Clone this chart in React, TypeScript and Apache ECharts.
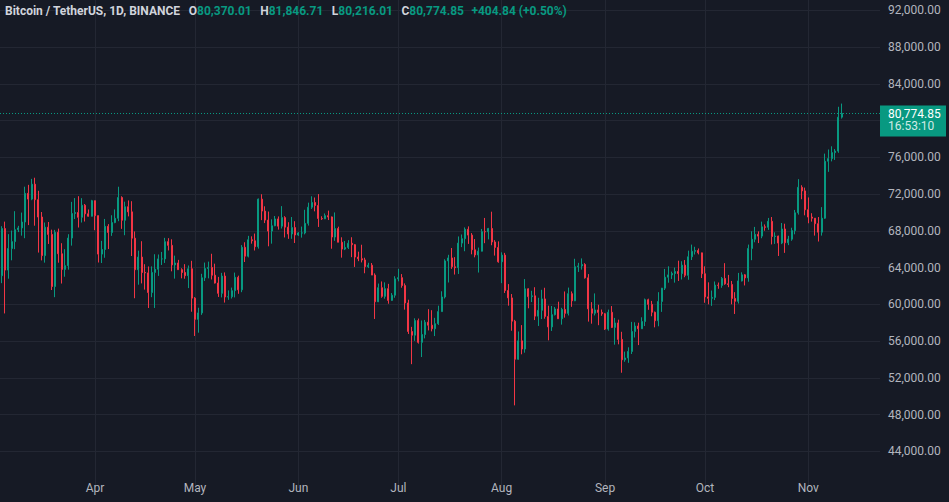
import React, { useEffect, useRef } from "react";
import * as echarts from "echarts";

// ---- data (daily BTC/USDT, [open, high, low, close]) ----
const START_DATE = "2024-03-04";
const EMPTY_DAYS_AFTER = 11;
const SYMBOL_TITLE = "Bitcoin / TetherUS, 1D, BINANCE";
const COUNTDOWN = "16:53:10";
const MONTH_NAMES = ["Jan", "Feb", "Mar", "Apr", "May", "Jun", "Jul", "Aug", "Sep", "Oct", "Nov", "Dec"];

const march: number[][] = [
  [63113, 68499, 62300, 68245], [68245, 69000, 59005, 63724], [63724, 67637, 62787, 66074],
  [66074, 68029, 64789, 66823], [66823, 70136, 66000, 68124], [68124, 68541, 67861, 68313],
  [68313, 69984, 67473, 68955], [68955, 72800, 67194, 72078], [72078, 73000, 68620, 71452],
  [71452, 73650, 71333, 73072], [73072, 73777, 68555, 71388], [71388, 72357, 65630, 69499],
  [69499, 70043, 64780, 65300], [65300, 68904, 64533, 68393], [68393, 68957, 66565, 67609],
  [67609, 68124, 61555, 61937], [61937, 68100, 60775, 67840], [67840, 68240, 64529, 65501],
  [65501, 66649, 62260, 63797], [63797, 65999, 63000, 64209], [64209, 67628, 63772, 67210],
  [67210, 71150, 66385, 69880], [69880, 71561, 69280, 69988], [69988, 71769, 68359, 69469],
  [69469, 71552, 68903, 70780], [70780, 70916, 69009, 69850], [69850, 70321, 69540, 69582],
  [69582, 71366, 69562, 71280],
];
const april: number[][] = [
  [71280, 71288, 68062, 69649], [69649, 69674, 64550, 65463], [65463, 66903, 64493, 65963],
  [65963, 69291, 65064, 68487], [68487, 68725, 66011, 67820], [67820, 69692, 67447, 68896],
  [68896, 70326, 68824, 69360], [69360, 72797, 69043, 71620], [71620, 71758, 68210, 69146],
  [69146, 71172, 67518, 70620], [70620, 71305, 69567, 70060], [70060, 71222, 65254, 67195],
  [67195, 67931, 60660, 63765], [63765, 65840, 62134, 65140], [65140, 66867, 62274, 63461],
  [63461, 64365, 61600, 63419], [63419, 64117, 59600, 61277], [61277, 64125, 60775, 63470],
  [63470, 65450, 59600, 63818], [63818, 65419, 63090, 64941], [64941, 65700, 64278, 64941],
  [64941, 67233, 64500, 66819], [66819, 67199, 65864, 66414], [66414, 67075, 63589, 64289],
  [64289, 65297, 62794, 64498], [64498, 64837, 63747, 63770], [63770, 63923, 62824, 63461],
  [63461, 64370, 62781, 63118], [63118, 64228, 61765, 63866], [63866, 64734, 59191, 60672],
];
const may: number[][] = [
  [60672, 60780, 56552, 58364], [58364, 59625, 56911, 59060], [59060, 63320, 58848, 62882],
  [62882, 64545, 62541, 63892], [63892, 64646, 62822, 64012], [64012, 65500, 62700, 63165],
  [63165, 64422, 62261, 62313], [62313, 62984, 60800, 61193], [61193, 63421, 60749, 63074],
  [63074, 63470, 60187, 60799], [60799, 61515, 60487, 60825], [60825, 61818, 60631, 61483],
  [61483, 63450, 60750, 62940], [62940, 63118, 61142, 61578], [61578, 66444, 61319, 66206],
  [66206, 66752, 64602, 65235], [65235, 67451, 65107, 67024], [67024, 67400, 66600, 66915],
  [66915, 67700, 65857, 66274], [66274, 71515, 66060, 71446], [71446, 71979, 69162, 70148],
  [70148, 70666, 68842, 69166], [69166, 70096, 66312, 67970], [67970, 69250, 66600, 68549],
  [68549, 69610, 68500, 69290], [69290, 69562, 68128, 68507], [68507, 70687, 68250, 69436],
  [69436, 69591, 67277, 68398], [68398, 68935, 67124, 67652], [67652, 69500, 67128, 68352],
  [68352, 69044, 66670, 67540],
];
const june: number[][] = [
  [67540, 67856, 67443, 67766], [67766, 68460, 67257, 67766], [67766, 70288, 67612, 68809],
  [68809, 71063, 68567, 70567], [70567, 71758, 70383, 71082], [71082, 71625, 70119, 70757],
  [70757, 71997, 68420, 69342], [69342, 69582, 69184, 69305], [69305, 69887, 69274, 69648],
  [69648, 70195, 69172, 69508], [69508, 69560, 66051, 67321], [67321, 69999, 66902, 68243],
  [68243, 68449, 66764, 66756], [66756, 67294, 65078, 66011], [66011, 66895, 65900, 66191],
  [66191, 66983, 66016, 66639], [66639, 67298, 65130, 66490], [66490, 66556, 64066, 65140],
  [65140, 65727, 64693, 64960], [64960, 66482, 64559, 64828], [64828, 65067, 63379, 64096],
  [64096, 64520, 63943, 64252], [64252, 64491, 63180, 63180], [63180, 63369, 58402, 60277],
  [60277, 62258, 60239, 61806], [61806, 62487, 60712, 60864], [60864, 62389, 60606, 61706],
  [61706, 62225, 60063, 60427], [60427, 61224, 60383, 60986], [60986, 63058, 60712, 62772],
];
const july: number[][] = [
  [62772, 63862, 62497, 62900], [62900, 63288, 61806, 62041], [62041, 62273, 59419, 60145],
  [60145, 60498, 56771, 57042], [57042, 57546, 53485, 56639], [56639, 58475, 56018, 58231],
  [58231, 58449, 55724, 55857], [55857, 58236, 54260, 56714], [56714, 58296, 56289, 58050],
  [58050, 59470, 57157, 57725], [57725, 59359, 57052, 57339], [57339, 58526, 56542, 57889],
  [57889, 59850, 57756, 59204], [59204, 61420, 59204, 60797], [60797, 64900, 60632, 64724],
  [64724, 65388, 62373, 65043], [65043, 66128, 63854, 64087], [64087, 65133, 63238, 63987],
  [63987, 67386, 63300, 66660], [66660, 67598, 66222, 67139], [67139, 68366, 65777, 68165],
  [68165, 68480, 66573, 67532], [67532, 67750, 65441, 65936], [65936, 67102, 65111, 65372],
  [65372, 66175, 63456, 65777], [65777, 68200, 65757, 67907], [67907, 69399, 66650, 67896],
  [67896, 68318, 67066, 68249], [68249, 70079, 66428, 66784], [66784, 66984, 65302, 66188],
  [66188, 66849, 64530, 64628],
];
const august: number[][] = [
  [64628, 65659, 62302, 65354], [65354, 65596, 61230, 61498], [61498, 62198, 59850, 60697],
  [60697, 61117, 57122, 58161], [58161, 58305, 49000, 54018], [54018, 57040, 53962, 56022],
  [56022, 57736, 54558, 55134], [55134, 62745, 54730, 61685], [61685, 61744, 59565, 60837],
  [60837, 61470, 60242, 60923], [60923, 61858, 58286, 58712], [58712, 60711, 57642, 59346],
  [59346, 61578, 58392, 60587], [60587, 61800, 58433, 58683], [58683, 59849, 56078, 57541],
  [57541, 59817, 57098, 58874], [58874, 59700, 58785, 59491], [59491, 60284, 58408, 58427],
  [58427, 59617, 57787, 59438], [59438, 61400, 58548, 59013], [59013, 61820, 58783, 61157],
  [61157, 61400, 59724, 60381], [60381, 64955, 60345, 64094], [64094, 64513, 63520, 64178],
  [64178, 64996, 63775, 64333], [64333, 64475, 62800, 62880], [62880, 63289, 58116, 59504],
  [59504, 60236, 57890, 59027], [59027, 61185, 58786, 59388], [59388, 59950, 57726, 59119],
  [59119, 59433, 58748, 58973],
];
const september: number[][] = [
  [58973, 59062, 57201, 57301], [57301, 59425, 57128, 59132], [59132, 59809, 57415, 57487],
  [57487, 58520, 55606, 57970], [57970, 58327, 55643, 56180], [56180, 57008, 52550, 53962],
  [53962, 54850, 53745, 54160], [54160, 55318, 53629, 54869], [54869, 58088, 54591, 57042],
  [57042, 58044, 56386, 57635], [57635, 57995, 55561, 57338], [57338, 58588, 57324, 58132],
  [58132, 60625, 57632, 60498], [60498, 60610, 59400, 59993], [59993, 60370, 58696, 59132],
  [59132, 59210, 57493, 58213], [58213, 61320, 57610, 60309], [60309, 61786, 59175, 61759],
  [61759, 63850, 61555, 62947], [62947, 64133, 62350, 63201], [63201, 63559, 62758, 63348],
  [63348, 64000, 62357, 63578], [63578, 64745, 62538, 63339], [63339, 64688, 62700, 64262],
  [64262, 64817, 62947, 63152], [63152, 65839, 62670, 65173], [65173, 66498, 64819, 65769],
  [65769, 66260, 65422, 65858], [65858, 66076, 65432, 65602], [65602, 65618, 62856, 63327],
];
const october: number[][] = [
  [63327, 64130, 60164, 60805], [60805, 62390, 59996, 60649], [60649, 61500, 59828, 60752],
  [60752, 62484, 60459, 62086], [62086, 62370, 61689, 62058], [62058, 62975, 61798, 62819],
  [62819, 64478, 62128, 62224], [62224, 63200, 61860, 62160], [62160, 62543, 60000, 60636],
  [60636, 61321, 58946, 60326], [60326, 63417, 60087, 62540], [62540, 63480, 62487, 63206],
  [63206, 63285, 62050, 62870], [62870, 66500, 62457, 66083], [66083, 67950, 64800, 67074],
  [67074, 68424, 66750, 67620], [67620, 67939, 66666, 67421], [67421, 69000, 67192, 68428],
  [68428, 68693, 68010, 68379], [68379, 69400, 68100, 69031], [69031, 69500, 66518, 67377],
  [67377, 67836, 66571, 67426], [67426, 67472, 65260, 66668], [66668, 68850, 66551, 68198],
  [68198, 68771, 65596, 66698], [66698, 67454, 66439, 67092], [67092, 68332, 66913, 68021],
  [68021, 70270, 67618, 69962], [69962, 73620, 69760, 72736], [72736, 72961, 71436, 72344],
  [72344, 72700, 69685, 70292],
];
const november: number[][] = [
  [70292, 71632, 68820, 69496], [69496, 69914, 69000, 69374], [69374, 69391, 67478, 68775],
  [68775, 69500, 66835, 67850], [67850, 70577, 67476, 69372], [69372, 76400, 69298, 75571],
  [75571, 76849, 74416, 75857], [75857, 77199, 75555, 76509], [76509, 76900, 75714, 76677],
  [76677, 81500, 76492, 80370.01], [80370.01, 81846.71, 80216.01, 80774.85],
];

const Y_MIN = 40000;
const Y_STEP = 4000;
const Y_LABEL_MIN = 44000;
const Y_LABEL_MAX = 92000;

// ---- style ----
const W = 949;
const H = 502;
const GRID_RIGHT = 69;
const BG = "#161a25";
const GRID_COLOR = "#232733";
const TEXT = "#b2b5be";
const TITLE = "#d1d4dc";
const UP = "#089981";
const DOWN = "#f23645";
const FONT = "Roboto, 'Liberation Sans', sans-serif";
const PX_PER_STEP = 36.75; // vertical pixels per 4,000
const TOP_LABEL_Y = 10.3; // pixel row of the 92,000 gridline

const ohlc = [...march, ...april, ...may, ...june, ...july, ...august, ...september, ...october, ...november];

function buildDates(start: string, n: number): string[] {
  const out: string[] = [];
  const d0 = new Date(start + "T00:00:00Z").getTime();
  for (let i = 0; i < n; i++) {
    out.push(new Date(d0 + i * 86400000).toISOString().slice(0, 10));
  }
  return out;
}

const fmt = (v: number) =>
  v.toLocaleString("en-US", { minimumFractionDigits: 2, maximumFractionDigits: 2 });

export default function App() {
  const ref = useRef<HTMLDivElement>(null);

  useEffect(() => {
    if (!ref.current) return;
    document.body.style.margin = "0";
    document.body.style.background = BG;
    const chart = echarts.init(ref.current, undefined, { renderer: "svg", width: W, height: H });

    const dates = buildDates(START_DATE, ohlc.length + EMPTY_DAYS_AFTER);
    const data = ohlc.map(([o, h, l, c]) => [o, c, l, h]);
    const last = ohlc[ohlc.length - 1];
    const prev = ohlc[ohlc.length - 2];
    const lastClose = last[3];
    const change = lastClose - prev[3];
    const pct = (change / prev[3]) * 100;
    const sign = change >= 0 ? "+" : "";
    const headColor = lastClose >= last[0] ? UP : DOWN;

    const isMonthStart = (_i: number, v: string) => typeof v === "string" && v.slice(8, 10) === "01";

    // grid starts at the very top; extend the value range so 92,000 sits a few px below it
    const yMax = Y_LABEL_MAX + (TOP_LABEL_Y / PX_PER_STEP) * Y_STEP;
    const gridHeight = ((yMax - Y_MIN) / Y_STEP) * PX_PER_STEP;
    const gridBottom = H - gridHeight;

    const titleText =
      `{n|${SYMBOL_TITLE}}` +
      `{k|O}{v|${fmt(last[0])}}` +
      `{k|H}{v|${fmt(last[1])}}` +
      `{k|L}{v|${fmt(last[2])}}` +
      `{k|C}{v|${fmt(last[3])}}` +
      `{c|${sign}${fmt(change)} (${sign}${pct.toFixed(2)}%)}`;

    const option: any = {
      animation: false,
      backgroundColor: BG,
      textStyle: { fontFamily: FONT },
      title: {
        text: titleText,
        left: 5,
        top: 5,
        padding: 0,
        textStyle: {
          fontSize: 12,
          fontFamily: FONT,
          color: TITLE,
          rich: {
            n: { fontSize: 12, fontFamily: FONT, color: TITLE },
            k: { fontSize: 12, fontFamily: FONT, color: TITLE, padding: [0, 0, 0, 8.5] },
            v: { fontSize: 12, fontFamily: FONT, color: headColor },
            c: { fontSize: 12, fontFamily: FONT, color: headColor, padding: [0, 0, 0, 7.5] },
          },
        },
      },
      grid: { left: 0, right: GRID_RIGHT, top: 0, bottom: gridBottom },
      xAxis: {
        type: "category",
        data: dates,
        boundaryGap: true,
        axisLine: { show: false },
        axisTick: { show: false },
        axisLabel: {
          interval: isMonthStart,
          formatter: (v: string) => MONTH_NAMES[parseInt(v.slice(5, 7), 10) - 1],
          color: TEXT,
          fontSize: 12,
          fontFamily: FONT,
          margin: -6,
        },
        splitLine: {
          show: true,
          interval: isMonthStart,
          alignWithLabel: true,
          lineStyle: { color: GRID_COLOR, width: 1 },
        },
      },
      yAxis: {
        type: "value",
        position: "right",
        min: Y_MIN,
        max: yMax,
        interval: Y_STEP,
        axisLine: { show: false },
        axisTick: { show: false },
        splitLine: {
          show: true,
          showMinLine: false,
          showMaxLine: false,
          lineStyle: { color: GRID_COLOR, width: 1 },
        },
        axisLabel: {
          color: TEXT,
          fontSize: 12,
          fontFamily: FONT,
          margin: 8,
          showMinLabel: false,
          showMaxLabel: false,
          formatter: (v: number) =>
            v < Y_LABEL_MIN || v > Y_LABEL_MAX || Math.abs(v - lastClose) < 1500 ? "" : fmt(v),
        },
      },
      series: [
        {
          type: "candlestick",
          data,
          barWidth: 1.4,
          itemStyle: {
            color: UP,
            color0: DOWN,
            borderColor: UP,
            borderColor0: DOWN,
            borderWidth: 1,
          },
          markLine: {
            silent: true,
            symbol: ["none", "none"],
            label: { show: false },
            lineStyle: { color: UP, type: [1, 2], width: 1 },
            data: [{ yAxis: lastClose }],
          },
        },
      ],
    };

    chart.setOption(option);

    const y = chart.convertToPixel({ yAxisIndex: 0 }, lastClose) as number;
    const tagX = W - GRID_RIGHT;
    chart.setOption({
      graphic: [
        {
          type: "group",
          x: tagX,
          y,
          children: [
            { type: "rect", shape: { x: 0, y: -8, width: 66, height: 31 }, style: { fill: headColor } },
            {
              type: "text",
              x: 8,
              y: 0.5,
              style: { text: fmt(lastClose), fill: "#ffffff", font: `12px ${FONT}`, verticalAlign: "middle" },
            },
            {
              type: "text",
              x: 8,
              y: 13,
              style: { text: COUNTDOWN, fill: "rgba(255,255,255,0.82)", font: `12px ${FONT}`, verticalAlign: "middle" },
            },
          ],
        },
      ],
    });

    return () => chart.dispose();
  }, []);

  return (
    <div
      ref={ref}
      style={{ position: "fixed", left: 0, top: 0, width: W, height: H, background: BG }}
    />
  );
}
